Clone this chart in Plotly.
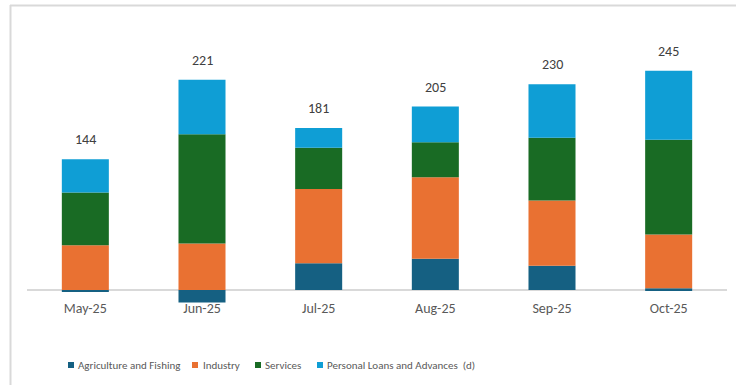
import plotly.graph_objects as go

months = ["May-25", "Jun-25", "Jul-25", "Aug-25", "Sep-25", "Oct-25"]
agriculture = [-2, -14, 30, 35, 27, 2]
industry = [50, 52, 83, 91, 73, 60]
services = [59, 122, 46, 39, 70, 106]
personal = [37, 61, 22, 40, 60, 77]
totals = [144, 221, 181, 205, 230, 245]

series_names = ["Agriculture and Fishing", "Industry", "Services", "Personal Loans and Advances  (d)"]
series_values = [agriculture, industry, services, personal]
series_colors = ["#156082", "#E97132", "#196B24", "#0F9ED5"]
legend_square_px = [68, 192, 255, 317]
legend_text_px = [76, 201, 263, 325]

FONT = "Carlito, 'Liberation Sans Narrow', 'DejaVu Sans Condensed', sans-serif"

fig = go.Figure()
for name, vals, col in zip(series_names, series_values, series_colors):
    fig.add_trace(go.Bar(x=months, y=vals, name=name, marker=dict(color=col, line=dict(width=0)),
                         showlegend=False))

W, H = 736, 385
ml, mr, mt, mb = 27, 9, 20, 82
plot_w = W - ml - mr
plot_h = H - mt - mb
scale = 0.895
ymin = -14.5
ymax = ymin + plot_h / scale


def px_x(px):
    return (px - ml) / plot_w


def px_y(py):
    return (mt + plot_h - py) / plot_h


annotations = []
for m, t, vals in zip(months, totals, zip(*series_values)):
    pos = sum(v for v in vals if v > 0)
    annotations.append(dict(x=m, y=pos, text=str(t), showarrow=False, yanchor="bottom",
                            yshift=9, font=dict(size=14, color="#404040", family=FONT)))

shapes = []
for name, col, sq, tx in zip(series_names, series_colors, legend_square_px, legend_text_px):
    annotations.append(dict(xref="paper", yref="paper", x=px_x(tx), y=px_y(365),
                            xanchor="left", yanchor="middle", showarrow=False,
                            text=name, font=dict(size=11, color="#595959", family=FONT)))
    shapes.append(dict(type="rect", xref="paper", yref="paper", x0=px_x(sq), x1=px_x(sq + 6),
                       y0=px_y(362), y1=px_y(368), fillcolor=col, line=dict(width=0)))

shapes += [
    dict(type="line", xref="paper", yref="paper", x0=px_x(10.5), x1=px_x(10.5),
         y0=px_y(5), y1=px_y(390), line=dict(color="#d9d9d9", width=2)),
    dict(type="line", xref="paper", yref="paper", x0=px_x(10), x1=px_x(740),
         y0=px_y(5.5), y1=px_y(5.5), line=dict(color="#d9d9d9", width=2)),
]

fig.update_layout(
    width=W, height=H, barmode="relative", bargap=0.597,
    margin=dict(l=ml, r=mr, t=mt, b=mb),
    paper_bgcolor="white", plot_bgcolor="white",
    font=dict(family=FONT, size=12, color="#595959"),
    xaxis=dict(showline=False, showgrid=False, ticks="", ticklabelstandoff=-5,
               tickfont=dict(size=14, color="#595959")),
    yaxis=dict(range=[ymin, ymax], visible=True, showticklabels=False, showgrid=False, showline=False,
               zeroline=True, zerolinecolor="#d9d9d9", zerolinewidth=2),
    annotations=annotations, shapes=shapes,
)

fig.write_html("out.html")
